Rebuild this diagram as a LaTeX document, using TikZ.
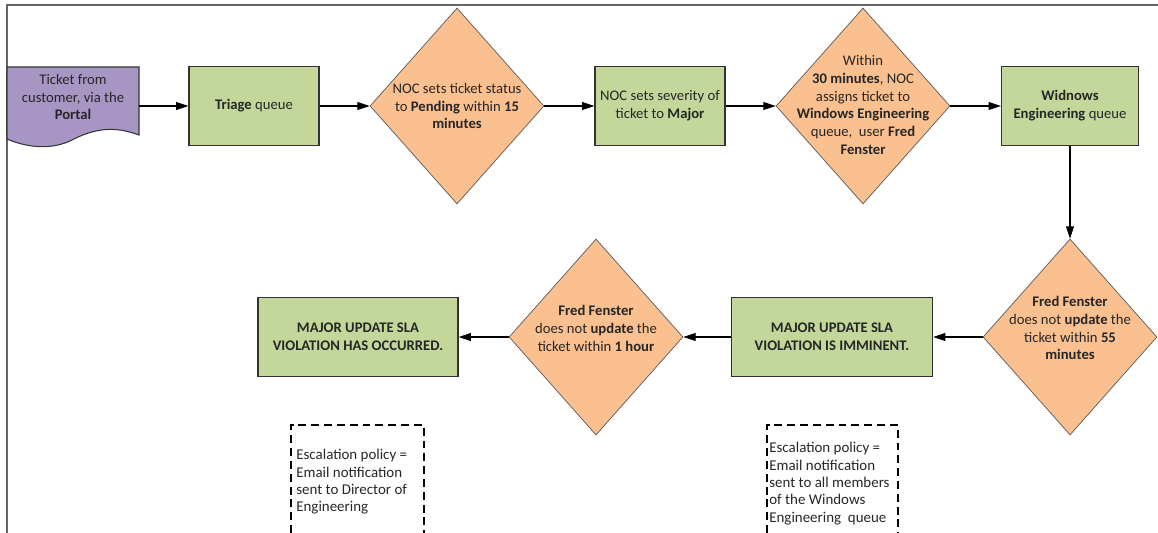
\documentclass[tikz,border=0pt]{standalone}
\usepackage{fontspec}
\setmainfont{Carlito}
\usepackage{xcolor}
\usepackage{tikz}
\usetikzlibrary{arrows.meta,positioning,shapes,calc}

\definecolor{boxgreen}{RGB}{196,215,155}
\definecolor{deciorange}{RGB}{250,192,144}
\definecolor{docpurple}{RGB}{167,150,196}
\definecolor{inkgray}{RGB}{38,38,38}

\begin{document}
\begin{tikzpicture}[x=0.02cm, y=-0.02cm,
  font=\fontsize{8.35}{10.2}\selectfont,
  queue/.style={draw=black!80, line width=0.8pt, fill=boxgreen, inner sep=0pt,
    minimum width=2.6cm, minimum height=1.58cm, align=center, text=inkgray},
  decision/.style={diamond, draw=black!65, line width=0.4pt, fill=deciorange,
    inner sep=0pt, minimum width=3.48cm, minimum height=3.92cm},
  dtext/.style={align=center, text=inkgray, inner sep=0pt},
  note/.style={align=left, text=inkgray, inner sep=0pt, anchor=north west,
    font=\fontsize{8.5}{9.9}\selectfont},
  flow/.style={-{Triangle[length=7pt,width=4.5pt]}, line width=0.6pt, black},
  escbox/.style={draw=black, line width=0.7pt, dash pattern=on 4.5pt off 2.8pt}
]
\useasboundingbox (0,0) rectangle (1158,533);

% Frame
\draw[black!60, line width=0.6pt] (7,533) -- (7,5) -- (1158,5);

% Ticket document
\draw[fill=docpurple, draw=black!80, line width=0.6pt] (7,67) -- (139,67) -- (139,135)
  .. controls (115,126) and (95,128) .. (72,140)
  .. controls (52,150) and (28,148) .. (7,139) -- cycle;
\node[dtext] (ticket) at (73,97) {Ticket from\\customer, via the\\\textbf{Portal}};
\coordinate (ticket-out) at (139,106);

% Top row
\node[queue] (triage) at (254,106) {\textbf{Triage} queue};
\node[decision] (pending) at (457,106) {};
\node[dtext] (pending-t) at (pending) {NOC sets ticket status\\to \textbf{Pending} within \textbf{15}\\\textbf{minutes}};
\node[queue] (major) at (660,106) {NOC sets severity of\\ticket to \textbf{Major}};
\node[decision] (assign) at (863,106) {};
\node[dtext] (assign-t) at (863,105) {Within\\\textbf{30 minutes}, NOC\\assigns ticket to\\\textbf{Windows Engineering}\\queue,\ \ user \textbf{Fred}\\\textbf{Fenster}};
\node[queue, minimum width=2.74cm] (wineng) at (1070,106) {\textbf{Widnows}\\\textbf{Engineering} queue};

% Bottom row
\node[decision] (noupd55) at (1070,337) {};
\node[dtext] (noupd55-t) at (1070,328) {\textbf{Fred Fenster}\\does not \textbf{update} the\\ticket within \textbf{55}\\\textbf{minutes}};
\node[queue, minimum width=4.02cm] (imminent) at (832,337) {\textbf{MAJOR UPDATE SLA}\\\textbf{VIOLATION IS IMMINENT.}};
\node[decision] (noupd1h) at (596,337) {};
\node[dtext] (noupd1h-t) at (596,328) {\textbf{Fred Fenster}\\does not \textbf{update} the\\ticket within \textbf{1 hour}};
\node[queue, minimum width=4.0cm] (occurred) at (358,337) {\textbf{MAJOR UPDATE SLA}\\\textbf{VIOLATION HAS OCCURRED.}};

% Connectors
\draw[flow] (ticket-out) -- (triage);
\draw[flow] (triage) -- (pending);
\draw[flow] (pending) -- (major);
\draw[flow] (major) -- (assign);
\draw[flow] (assign) -- (wineng);
\draw[flow] (wineng) -- (noupd55);
\draw[flow] (noupd55) -- (imminent);
\draw[flow] (imminent) -- (noupd1h);
\draw[flow] (noupd1h) -- (occurred);

% Escalation notes
\draw[escbox] (291,533) -- (291,425) -- (424,425) -- (424,533);
\node[note] (esc-dir) at (296,449) {Escalation policy =\\Email notification\\sent to Director of\\Engineering};
\draw[escbox] (767,533) -- (767,425) -- (898,425) -- (898,533);
\node[note] (esc-all) at (769,442) {Escalation policy =\\Email notification\\sent to all members\\of the Windows\\Engineering\ \ queue};
\end{tikzpicture}
\end{document}
